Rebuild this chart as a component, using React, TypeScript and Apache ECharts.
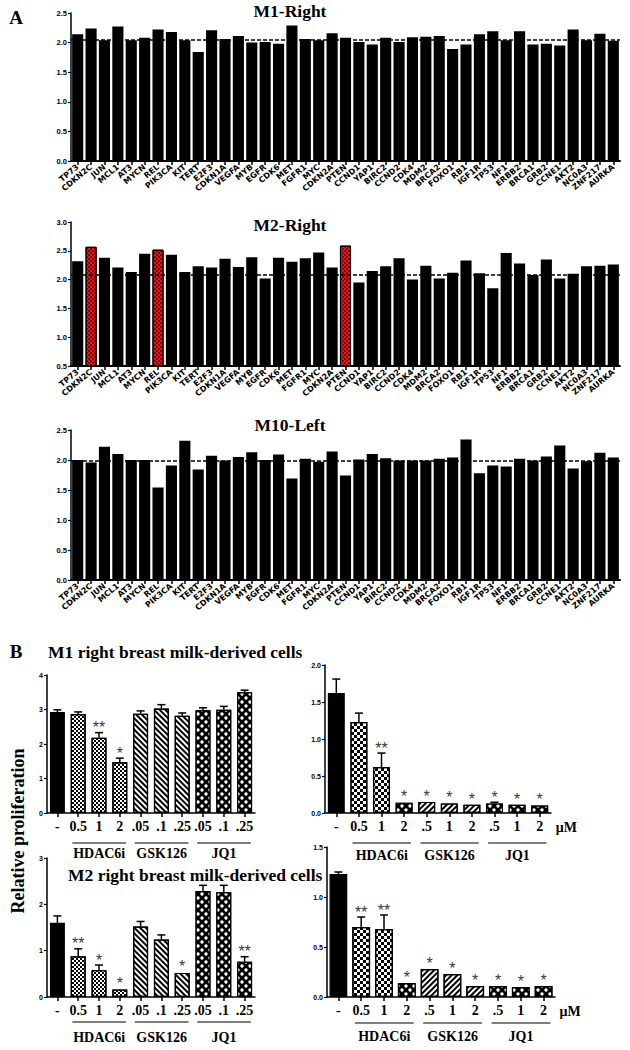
import React, { useEffect, useRef } from 'react';
import * as echarts from 'echarts';

// ---------- Panel A data ----------
const genes = ['TP73','CDKN2C','JUN','MCL1','AT3','MYCN','REL','PIK3CA','KIT','TERT','E2F3','CDKN1A','VEGFA','MYB','EGFR','CDK6','MET','FGFR1','MYC','CDKN2A','PTEN','CCND1','YAP1','BIRC2','CCND2','CDK4','MDM2','BRCA2','FOXO1','RB1','IGF1R','TP53','NF1','ERBB2','BRCA1','GRB2','CCNE1','AKT2','NC0A3','ZNF217','AURKA'];
const m1Right = [2.14,2.24,2.04,2.27,2.04,2.08,2.22,2.18,2.04,1.84,2.21,2.06,2.11,2.00,2.01,1.98,2.29,2.06,2.04,2.16,2.08,2.01,1.97,2.08,2.01,2.09,2.10,2.11,1.89,1.97,2.14,2.19,2.04,2.19,1.97,1.98,1.95,2.22,2.04,2.15,2.03];
const m1RightRef = 2.05;
const m2Right = [2.32,2.57,2.38,2.21,2.13,2.45,2.52,2.43,2.13,2.23,2.21,2.36,2.22,2.39,2.02,2.38,2.31,2.37,2.47,2.21,2.59,1.95,2.15,2.23,2.37,2.00,2.24,2.02,2.12,2.33,2.11,1.85,2.46,2.28,2.08,2.35,2.02,2.10,2.23,2.24,2.26];
const m2RightRef = 2.08;
const m2Highlighted = ['CDKN2C','REL','PTEN'];
const m10Left = [2.00,1.96,2.22,2.10,2.00,2.00,1.54,1.91,2.32,1.84,2.07,1.99,2.05,2.13,2.00,2.09,1.69,2.02,1.97,2.14,1.74,2.01,2.10,2.03,1.99,1.99,1.99,2.02,2.04,2.34,1.78,1.91,1.89,2.02,1.99,2.06,2.24,1.86,1.98,2.12,2.04];
const m10LeftRef = 1.99;

// ---------- Panel B data ----------
const leftDoses = ['-','0.5','1','2','.05','.1','.25','.05','.1','.25'];
const rightDoses = ['-','0.5','1','2','.5','1','2','.5','1','2'];
const groupNames = ['HDAC6i','GSK126','JQ1'];
const groupRanges = [[1,3],[4,6],[7,9]];
const leftKinds = ['solid','check','check','check','hatchL','hatchL','hatchL','dots','dots','dots'];
const rightKinds = ['solid','checkBig','checkBig','dots','hatchR','hatchR','hatchR','dots','dots','dots'];

const m1LeftMean = [2.93,2.87,2.18,1.47,2.88,3.03,2.82,2.98,2.99,3.50];
const m1LeftErr = [0.06,0.06,0.15,0.12,0.08,0.11,0.08,0.07,0.10,0.06];
const m1LeftSig = ['','','**','*','','','','','',''];
const m1RightMean = [1.62,1.23,0.62,0.14,0.15,0.13,0.11,0.13,0.11,0.10];
const m1RightErr = [0.19,0.12,0.19,0.01,0.01,0.01,0.01,0.015,0.01,0.01];
const m1RightSig = ['','','**','*','*','*','*','*','*','*'];
const m2LeftMean = [1.60,0.88,0.58,0.16,1.52,1.24,0.52,2.29,2.26,0.76];
const m2LeftErr = [0.15,0.16,0.11,0.02,0.11,0.10,0.02,0.12,0.15,0.11];
const m2LeftSig = ['','**','*','*','','','*','','','**'];
const m2RightMean = [1.23,0.70,0.68,0.14,0.28,0.23,0.11,0.11,0.10,0.11];
const m2RightErr = [0.02,0.10,0.14,0.01,0.01,0.01,0.005,0.005,0.005,0.005];
const m2RightSig = ['','**','**','*','*','*','*','*','*','*'];

const SERIF = '"Liberation Serif", "Times New Roman", serif';
const SANS = '"Liberation Sans", Arial, sans-serif';
const LABEL_SANS = '"DejaVu Sans", sans-serif';

function geneAxis(gridIndex: number) {
  return {
    type: 'category', gridIndex, data: genes,
    axisLine: { show: true, onZero: false, lineStyle: { color: '#000', width: 2 } },
    axisTick: { show: true, alignWithLabel: true, length: 4, lineStyle: { color: '#000', width: 1.5 } },
    axisLabel: { show: true, interval: 0, rotate: 40, margin: 5, fontSize: 8, fontWeight: 'bold', fontFamily: LABEL_SANS, color: '#000' },
    splitLine: { show: false },
  };
}
function doseAxis(gridIndex: number, labels: string[]) {
  return {
    type: 'category', gridIndex, data: labels,
    axisLine: { show: true, onZero: false, lineStyle: { color: '#000', width: 1.5 } },
    axisTick: { show: true, alignWithLabel: true, length: 4, lineStyle: { color: '#000', width: 1.5 } },
    axisLabel: { show: true, interval: 0, margin: 6, fontSize: 14, fontWeight: 'bold', fontFamily: SERIF, color: '#000' },
    splitLine: { show: false },
  };
}
function valueAxis(gridIndex: number, min: number, max: number, interval: number, digits: number, fontSize: number) {
  return {
    type: 'value', gridIndex, min, max, interval,
    axisLine: { show: true, lineStyle: { color: '#000', width: 1.5 } },
    axisTick: { show: true, length: 3, lineStyle: { color: '#000', width: 1.2 } },
    axisLabel: { show: true, margin: 4, fontSize, fontWeight: 'bold', fontFamily: SANS, color: '#000', formatter: (v: number) => v.toFixed(digits) },
    splitLine: { show: false },
  };
}

function kindStyle(kind: string) {
  const border = { borderColor: '#000', borderWidth: 1.2 };
  switch (kind) {
    case 'check':
      return { ...border, color: '#fff', decal: { symbol: 'rect', symbolSize: 1, color: '#000', dashArrayX: [[2, 2], [0, 2, 2, 0]], dashArrayY: [2, 0] } };
    case 'checkBig':
      return { ...border, color: '#fff', decal: { symbol: 'rect', symbolSize: 1, color: '#000', dashArrayX: [[3, 3], [0, 3, 3, 0]], dashArrayY: [3, 0] } };
    case 'hatchL':
      return { ...border, color: '#fff', decal: { symbol: 'rect', symbolSize: 1, color: '#000', dashArrayX: [1, 0], dashArrayY: [1.5, 2], rotation: Math.PI / 4 } };
    case 'hatchR':
      return { ...border, color: '#fff', decal: { symbol: 'rect', symbolSize: 1, color: '#000', dashArrayX: [1, 0], dashArrayY: [1.5, 2], rotation: -Math.PI / 4 } };
    case 'dots':
      return { ...border, color: '#000', decal: { symbol: 'circle', symbolSize: 0.85, color: '#fff', dashArrayX: [[4, 4], [0, 4, 4, 0]], dashArrayY: [4, 0] } };
    default:
      return { ...border, color: '#000' };
  }
}

function geneBars(idx: number, values: number[], ref: number, highlighted: string[] = []) {
  return {
    type: 'bar', xAxisIndex: idx, yAxisIndex: idx, barCategoryGap: '17%',
    itemStyle: { color: '#000' },
    data: values.map((v, i) => highlighted.includes(genes[i])
      ? { value: v, itemStyle: { color: '#e3141c', borderColor: '#000', borderWidth: 1, decal: { symbol: 'rect', symbolSize: 1, color: 'rgba(40,0,0,0.55)', dashArrayX: [[1.5, 1.5], [0, 1.5, 1.5, 0]], dashArrayY: [1.5, 0] } } }
      : v),
    markLine: {
      silent: true, symbol: 'none', label: { show: false },
      lineStyle: { type: [4, 2], color: '#000', width: 1.5 },
      data: [{ yAxis: ref }],
    },
  };
}

function doseBars(idx: number, means: number[], kinds: string[], gap: string) {
  return {
    type: 'bar', xAxisIndex: idx, yAxisIndex: idx, barCategoryGap: gap, z: 2,
    data: means.map((m, i) => ({ value: m, itemStyle: kindStyle(kinds[i]) })),
  };
}

function errorBars(idx: number, means: number[], errs: number[], sigs: string[]) {
  return {
    type: 'custom', xAxisIndex: idx, yAxisIndex: idx, z: 5, clip: false,
    itemStyle: { color: '#000' },
    encode: { x: 0, y: 1 },
    data: means.map((m, i) => [i, m, errs[i]]),
    renderItem: (params: any, api: any) => {
      const i = api.value(0);
      const m = api.value(1);
      const e = api.value(2);
      const base = api.coord([i, m]);
      const top = api.coord([i, m + e]);
      const children: any[] = [];
      if (top[1] < base[1] - 1) {
        children.push({ type: 'line', shape: { x1: base[0], y1: base[1], x2: top[0], y2: top[1] }, style: { stroke: '#000', lineWidth: 1.5 } });
        children.push({ type: 'line', shape: { x1: top[0] - 4, y1: top[1], x2: top[0] + 4, y2: top[1] }, style: { stroke: '#000', lineWidth: 1.5 } });
      }
      const s = sigs[params.dataIndex];
      if (s) {
        children.push({ type: 'text', x: top[0], y: top[1] + 3, style: { text: s, fill: '#3a3a3a', fontSize: 16, fontFamily: SANS, textAlign: 'center', textVerticalAlign: 'bottom' } });
      }
      return { type: 'group', children };
    },
  };
}

export default function App() {
  const ref = useRef<HTMLDivElement>(null);
  useEffect(() => {
    if (!ref.current) return;
    const chart = echarts.init(ref.current, null, { renderer: 'svg' });
    const gridBase = { containLabel: false, outerBoundsMode: 'none' };
    const option: any = {
      animation: false,
      backgroundColor: '#fff',
      grid: [
        { ...gridBase, left: 71, top: 13, width: 549, height: 148 },
        { ...gridBase, left: 71, top: 222, width: 549, height: 144 },
        { ...gridBase, left: 71, top: 430, width: 549, height: 150 },
        { ...gridBase, left: 47, top: 675, width: 208, height: 138 },
        { ...gridBase, left: 325, top: 665, width: 226, height: 148 },
        { ...gridBase, left: 47, top: 858, width: 208, height: 139 },
        { ...gridBase, left: 327, top: 847, width: 228, height: 150 },
      ],
      xAxis: [
        geneAxis(0), geneAxis(1), geneAxis(2),
        doseAxis(3, leftDoses), doseAxis(4, rightDoses), doseAxis(5, leftDoses), doseAxis(6, rightDoses),
      ],
      yAxis: [
        valueAxis(0, 0, 2.5, 0.5, 1, 7.5),
        valueAxis(1, 0.5, 3.0, 0.5, 1, 7.5),
        valueAxis(2, 0, 2.5, 0.5, 1, 7.5),
        valueAxis(3, 0, 4, 1, 0, 7),
        valueAxis(4, 0, 2, 0.5, 1, 7),
        valueAxis(5, 0, 3, 1, 0, 7),
        valueAxis(6, 0, 1.5, 0.5, 1, 7),
      ],
      series: [
        geneBars(0, m1Right, m1RightRef),
        geneBars(1, m2Right, m2RightRef, m2Highlighted),
        geneBars(2, m10Left, m10LeftRef),
        doseBars(3, m1LeftMean, leftKinds, '28%'),
        errorBars(3, m1LeftMean, m1LeftErr, m1LeftSig),
        doseBars(4, m1RightMean, rightKinds, '25%'),
        errorBars(4, m1RightMean, m1RightErr, m1RightSig),
        doseBars(5, m2LeftMean, leftKinds, '28%'),
        errorBars(5, m2LeftMean, m2LeftErr, m2LeftSig),
        doseBars(6, m2RightMean, rightKinds, '22%'),
        errorBars(6, m2RightMean, m2RightErr, m2RightSig),
      ],
    };
    chart.setOption(option);

    const txt = (text: string, x: number, y: number, size: number, align = 'center', extra: any = {}) => ({
      type: 'text', x, y, silent: true, ...extra,
      style: { text, fill: '#000', fontSize: size, fontWeight: 'bold', fontFamily: SERIF, textAlign: align, textVerticalAlign: 'middle' },
    });

    const elements: any[] = [
      txt('A', 16, 17, 19),
      txt('M1-Right', 290, 11, 17.5),
      txt('M2-Right', 290, 225, 17.5),
      txt('M10-Left', 290, 425, 17.5),
      txt('B', 16, 651, 19),
      txt('M1 right breast milk-derived cells', 48, 652, 17.5, 'left'),
      txt('M2 right breast milk-derived cells', 68, 875, 17.5, 'left'),
      txt('Relative proliferation', 18, 831, 18, 'center', { rotation: Math.PI / 2 }),
    ];

    // group lines / labels under each dose chart
    const doseCharts = [
      { grid: 3, lineDy: 30, labelDy: 40, unit: false },
      { grid: 4, lineDy: 30, labelDy: 42, unit: true },
      { grid: 5, lineDy: 25, labelDy: 40, unit: false },
      { grid: 6, lineDy: 26, labelDy: 39, unit: true },
    ];
    doseCharts.forEach((d) => {
      const p0 = chart.convertToPixel({ gridIndex: d.grid } as any, [0, 0]) as number[];
      const p1 = chart.convertToPixel({ gridIndex: d.grid } as any, [1, 0]) as number[];
      const band = p1[0] - p0[0];
      const baseY = p0[1];
      groupRanges.forEach((r, gi) => {
        const a = chart.convertToPixel({ gridIndex: d.grid } as any, [r[0], 0]) as number[];
        const b = chart.convertToPixel({ gridIndex: d.grid } as any, [r[1], 0]) as number[];
        const x1 = a[0] - band * 0.28;
        const x2 = b[0] + band * 0.3;
        elements.push({ type: 'line', silent: true, shape: { x1, y1: baseY + d.lineDy, x2, y2: baseY + d.lineDy }, style: { stroke: '#000', lineWidth: 1.2 } });
        elements.push(txt(groupNames[gi], (x1 + x2) / 2, baseY + d.labelDy, 14));
      });
      if (d.unit) {
        const last = chart.convertToPixel({ gridIndex: d.grid } as any, [9, 0]) as number[];
        elements.push(txt('\u03bcM', last[0] + 16, baseY + 14, 14, 'left'));
      }
    });

    chart.setOption({ graphic: { elements } });
    return () => chart.dispose();
  }, []);
  return <div ref={ref} style={{ position: 'absolute', left: 0, top: 0, width: 630, height: 1050, background: '#fff' }} />;
}
